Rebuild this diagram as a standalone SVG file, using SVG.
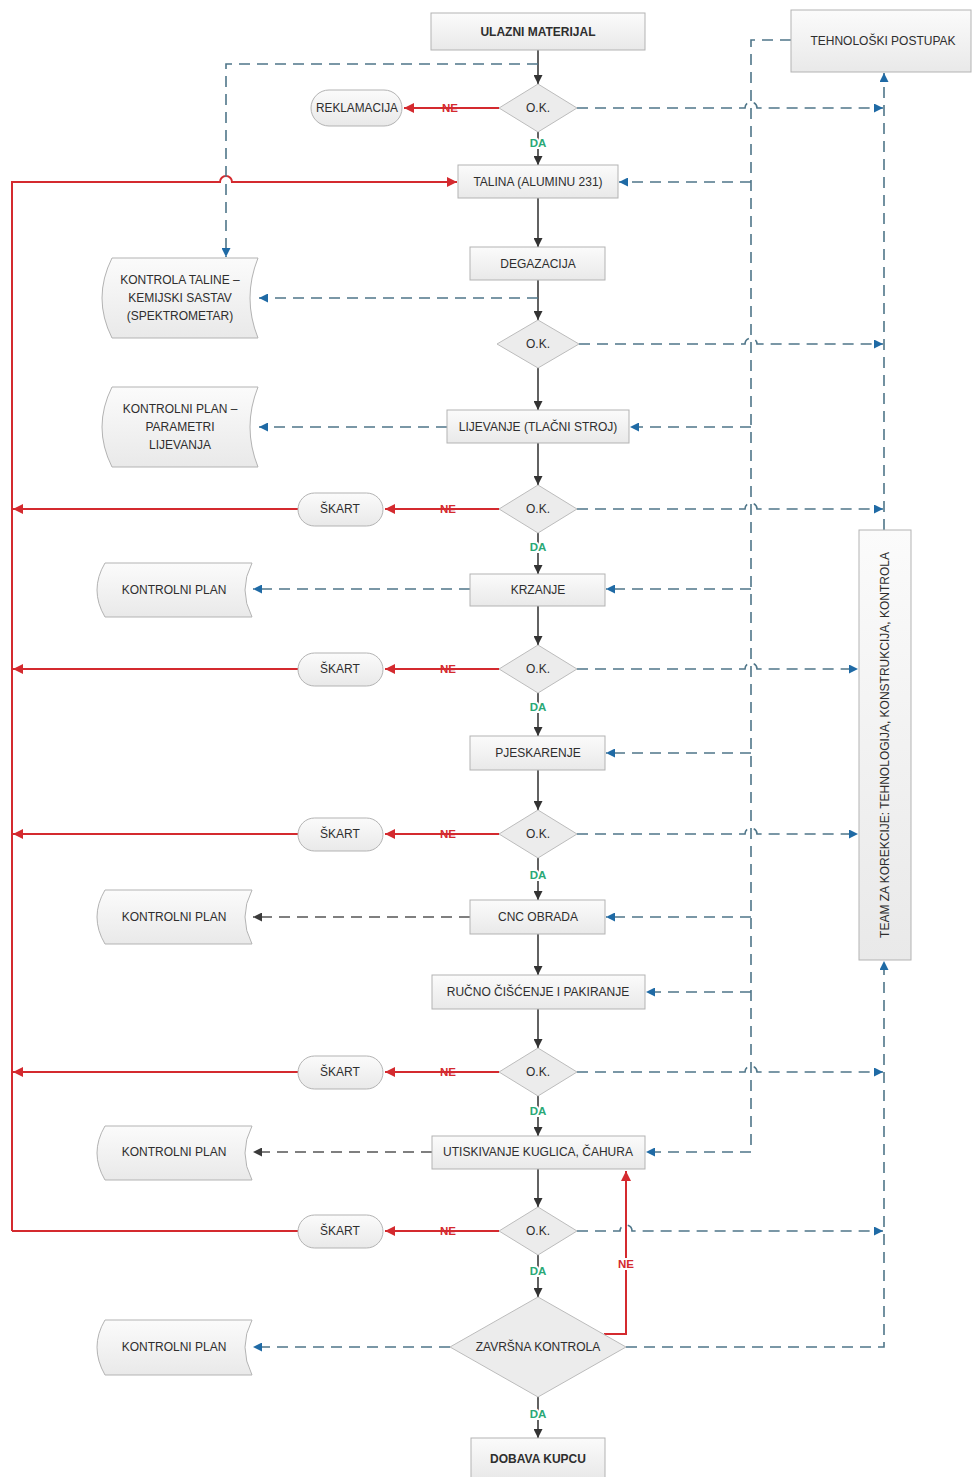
<svg xmlns="http://www.w3.org/2000/svg" width="972" height="1477" viewBox="0 0 972 1477">
<defs>
<linearGradient id="g" x1="0" y1="0" x2="0" y2="1"><stop offset="0" stop-color="#fbfbfb"/><stop offset="1" stop-color="#e9e9e9"/></linearGradient>
<marker id="ak" viewBox="0 0 10 10" refX="10" refY="5" markerWidth="10" markerHeight="9" markerUnits="userSpaceOnUse" orient="auto"><path d="M0,0 L10,5 L0,10 z" fill="#333"/></marker>
<marker id="ar" viewBox="0 0 10 10" refX="10" refY="5" markerWidth="12" markerHeight="10" markerUnits="userSpaceOnUse" orient="auto"><path d="M0,0 L10,5 L0,10 z" fill="#d42a2f"/></marker>
<marker id="ab" viewBox="0 0 10 10" refX="10" refY="5" markerWidth="11" markerHeight="9" markerUnits="userSpaceOnUse" orient="auto"><path d="M0,0 L10,5 L0,10 z" fill="#1f6aa5"/></marker>
<marker id="ag" viewBox="0 0 10 10" refX="10" refY="5" markerWidth="11" markerHeight="9" markerUnits="userSpaceOnUse" orient="auto"><path d="M0,0 L10,5 L0,10 z" fill="#3a3a3a"/></marker>
</defs>
<style>
.box{fill:url(#g);stroke:#b3b3b3;stroke-width:1}
.dia{fill:#ececec;stroke:#bcbcbc;stroke-width:1}
.doc{fill:url(#g);stroke:#b3b3b3;stroke-width:1}
.t{font-family:"Liberation Sans",Arial,sans-serif;font-size:12px;fill:#2e2e2e;text-anchor:middle}
.bd{font-weight:bold}
.flow{stroke:#3a3a3a;stroke-width:1.6;fill:none;marker-end:url(#ak)}
.red{stroke:#d42a2f;stroke-width:2;fill:none}
.redA{marker-end:url(#ar)}
.dash{stroke:#4f7689;stroke-width:1.6;stroke-dasharray:11 7;fill:none}
.dashA{marker-end:url(#ab)}
.dashk{stroke:#555;stroke-width:1.6;stroke-dasharray:11 7;fill:none;marker-end:url(#ag)}
.da{font-family:"Liberation Sans",Arial,sans-serif;font-size:11.5px;font-weight:bold;fill:#2aa876;text-anchor:middle;stroke:#fff;stroke-width:4;paint-order:stroke}
.ne{font-family:"Liberation Sans",Arial,sans-serif;font-size:11.5px;font-weight:bold;fill:#d42a2f;text-anchor:middle}
.new{stroke:#fff;stroke-width:4;paint-order:stroke}
</style>

<g id="connectors">
<path class="flow" d="M538,50 V84"/>
<path class="flow" d="M538,132 V165"/>
<path class="flow" d="M538,198 V247"/>
<path class="flow" d="M538,280 V320"/>
<path class="flow" d="M538,368 V410"/>
<path class="flow" d="M538,443 V485"/>
<path class="flow" d="M538,533 V574"/>
<path class="flow" d="M538,606 V645"/>
<path class="flow" d="M538,693 V736"/>
<path class="flow" d="M538,770 V810"/>
<path class="flow" d="M538,858 V900"/>
<path class="flow" d="M538,934 V975"/>
<path class="flow" d="M538,1009 V1048"/>
<path class="flow" d="M538,1096 V1136"/>
<path class="flow" d="M538,1169 V1207"/>
<path class="flow" d="M538,1255 V1297"/>
<path class="flow" d="M538,1397 V1438"/>
<text class="da" x="538" y="147">DA</text>
<text class="da" x="538" y="551">DA</text>
<text class="da" x="538" y="711">DA</text>
<text class="da" x="538" y="879">DA</text>
<text class="da" x="538" y="1115">DA</text>
<text class="da" x="538" y="1275">DA</text>
<text class="da" x="538" y="1418">DA</text>

<path class="red redA" d="M499,108 H404"/>
<path class="red redA" d="M499,509 H385"/>
<path class="red redA" d="M499,669 H385"/>
<path class="red redA" d="M499,834 H385"/>
<path class="red redA" d="M499,1072 H385"/>
<path class="red redA" d="M499,1231 H385"/>
<text class="ne" x="450" y="112">NE</text>
<text class="ne" x="448" y="513">NE</text>
<text class="ne" x="448" y="673">NE</text>
<text class="ne" x="448" y="838">NE</text>
<text class="ne" x="448" y="1076">NE</text>
<text class="ne" x="448" y="1235">NE</text>
<path class="red redA" d="M298,509 H13"/>
<path class="red redA" d="M298,669 H13"/>
<path class="red redA" d="M298,834 H13"/>
<path class="red redA" d="M298,1072 H13"/>
<path class="red" d="M298,1231 H12"/>
<path class="red redA" d="M12,1231 V182 H220 A6,6 0 0 1 232,182 H457"/>
<path class="red redA" d="M604,1334 H626 V1171"/>
<text class="ne new" x="626" y="1268">NE</text>

<path class="dash dashA" d="M538,64 H226 V257"/>
<path class="dash dashA" d="M538,298 H259"/>
<path class="dash dashA" d="M447,427 H259"/>
<path class="dash dashA" d="M470,589 H253"/>
<path class="dashk" d="M470,917 H253"/>
<path class="dashk" d="M432,1152 H253"/>
<path class="dash dashA" d="M450,1347 H253"/>

<path class="dash dashA" d="M791,40 H751 V1152 H646"/>
<path class="dash dashA" d="M751,182 H619"/>
<path class="dash dashA" d="M751,427 H630"/>
<path class="dash dashA" d="M751,589 H606"/>
<path class="dash dashA" d="M751,753 H606"/>
<path class="dash dashA" d="M751,917 H606"/>
<path class="dash dashA" d="M751,992 H646"/>

<path class="dash dashA" d="M577,108 H745 A6,6 0 0 1 757,108 H883"/>
<path class="dash dashA" d="M579,344 H745 A6,6 0 0 1 757,344 H883"/>
<path class="dash dashA" d="M577,509 H745 A6,6 0 0 1 757,509 H883"/>
<path class="dash dashA" d="M577,669 H745 A6,6 0 0 1 757,669 H858"/>
<path class="dash dashA" d="M577,834 H745 A6,6 0 0 1 757,834 H858"/>
<path class="dash dashA" d="M577,1072 H745 A6,6 0 0 1 757,1072 H883"/>
<path class="dash dashA" d="M577,1231 H620 A6,6 0 0 1 632,1231 H883"/>
<path class="dash dashA" d="M626,1347 H884 V961"/>
<path class="dash dashA" d="M884,530 V73"/>
</g>

<g id="ulazni"><rect class="box" x="431" y="13" width="214" height="37"/><text class="t bd" x="538" y="36">ULAZNI MATERIJAL</text></g>
<g id="tehnoloski"><rect class="box" x="791" y="10" width="180" height="62"/><text class="t" x="883" y="45">TEHNOLOŠKI POSTUPAK</text></g>
<g id="ok1"><path class="dia" d="M538,84 L577,108 L538,132 L499,108 Z"/><text class="t" x="538" y="112">O.K.</text></g>
<g id="reklamacija"><rect class="box" x="311" y="90" width="91" height="36" rx="18"/><text class="t" x="357" y="112" textLength="82" lengthAdjust="spacingAndGlyphs">REKLAMACIJA</text></g>
<g id="talina"><rect class="box" x="458" y="165" width="160" height="33"/><text class="t" x="538" y="186">TALINA (ALUMINU 231)</text></g>
<g id="degazacija"><rect class="box" x="470" y="247" width="135" height="33"/><text class="t" x="538" y="268">DEGAZACIJA</text></g>
<g id="kontrola-taline"><path class="doc" d="M112,258 H258 Q242,298 258,338 H112 Q92,298 112,258 Z"/><text class="t" x="180" y="284">KONTROLA TALINE –</text><text class="t" x="180" y="302">KEMIJSKI SASTAV</text><text class="t" x="180" y="320">(SPEKTROMETAR)</text></g>
<g id="ok2"><path class="dia" d="M538,320 L579,344 L538,368 L497,344 Z"/><text class="t" x="538" y="348">O.K.</text></g>
<g id="plan-lijevanja"><path class="doc" d="M112,387 H258 Q242,427 258,467 H112 Q92,427 112,387 Z"/><text class="t" x="180" y="413">KONTROLNI PLAN –</text><text class="t" x="180" y="431">PARAMETRI</text><text class="t" x="180" y="449">LIJEVANJA</text></g>
<g id="lijevanje"><rect class="box" x="447" y="410" width="182" height="33"/><text class="t" x="538" y="431">LIJEVANJE (TLAČNI STROJ)</text></g>
<g id="ok3"><path class="dia" d="M538,485 L577,509 L538,533 L499,509 Z"/><text class="t" x="538" y="513">O.K.</text></g>
<g id="skart3"><rect class="box" x="298" y="493" width="85" height="33" rx="16.5"/><text class="t" x="340" y="513">ŠKART</text></g>
<g id="krzanje"><rect class="box" x="470" y="574" width="135" height="32"/><text class="t" x="538" y="594">KRZANJE</text></g>
<g id="plan-krzanje"><path class="doc" d="M105,563 H252 Q238,590 252,617 H105 Q89,590 105,563 Z"/><text class="t" x="174" y="594">KONTROLNI PLAN</text></g>
<g id="ok4"><path class="dia" d="M538,645 L577,669 L538,693 L499,669 Z"/><text class="t" x="538" y="673">O.K.</text></g>
<g id="skart4"><rect class="box" x="298" y="653" width="85" height="33" rx="16.5"/><text class="t" x="340" y="673">ŠKART</text></g>
<g id="pjeskarenje"><rect class="box" x="470" y="736" width="135" height="34"/><text class="t" x="538" y="757">PJESKARENJE</text></g>
<g id="ok5"><path class="dia" d="M538,810 L577,834 L538,858 L499,834 Z"/><text class="t" x="538" y="838">O.K.</text></g>
<g id="skart5"><rect class="box" x="298" y="818" width="85" height="33" rx="16.5"/><text class="t" x="340" y="838">ŠKART</text></g>
<g id="cnc"><rect class="box" x="470" y="900" width="135" height="34"/><text class="t" x="538" y="921">CNC OBRADA</text></g>
<g id="plan-cnc"><path class="doc" d="M105,890 H252 Q238,917 252,944 H105 Q89,917 105,890 Z"/><text class="t" x="174" y="921">KONTROLNI PLAN</text></g>
<g id="rucno"><rect class="box" x="432" y="975" width="213" height="34"/><text class="t" x="538" y="996">RUČNO ČIŠĆENJE I PAKIRANJE</text></g>
<g id="ok6"><path class="dia" d="M538,1048 L577,1072 L538,1096 L499,1072 Z"/><text class="t" x="538" y="1076">O.K.</text></g>
<g id="skart6"><rect class="box" x="298" y="1056" width="85" height="33" rx="16.5"/><text class="t" x="340" y="1076">ŠKART</text></g>
<g id="utiskivanje"><rect class="box" x="432" y="1136" width="213" height="33"/><text class="t" x="538" y="1156">UTISKIVANJE KUGLICA, ČAHURA</text></g>
<g id="plan-utisk"><path class="doc" d="M105,1126 H252 Q238,1153 252,1180 H105 Q89,1153 105,1126 Z"/><text class="t" x="174" y="1156">KONTROLNI PLAN</text></g>
<g id="ok7"><path class="dia" d="M538,1207 L577,1231 L538,1255 L499,1231 Z"/><text class="t" x="538" y="1235">O.K.</text></g>
<g id="skart7"><rect class="box" x="298" y="1215" width="85" height="33" rx="16.5"/><text class="t" x="340" y="1235">ŠKART</text></g>
<g id="zavrsna"><path class="dia" d="M538,1297 L626,1347 L538,1397 L450,1347 Z"/><text class="t" x="538" y="1351">ZAVRŠNA KONTROLA</text></g>
<g id="plan-zavrsna"><path class="doc" d="M105,1320 H252 Q238,1347 252,1375 H105 Q89,1347 105,1320 Z"/><text class="t" x="174" y="1351">KONTROLNI PLAN</text></g>
<g id="dobava"><rect class="box" x="471" y="1438" width="134" height="40"/><text class="t bd" x="538" y="1463">DOBAVA KUPCU</text></g>
<g id="team"><rect class="box" x="859" y="530" width="52" height="430"/><text class="t" x="885" y="749" transform="rotate(-90 885 745)">TEAM ZA KOREKCIJE: TEHNOLOGIJA, KONSTRUKCIJA, KONTROLA</text></g>
</svg>
